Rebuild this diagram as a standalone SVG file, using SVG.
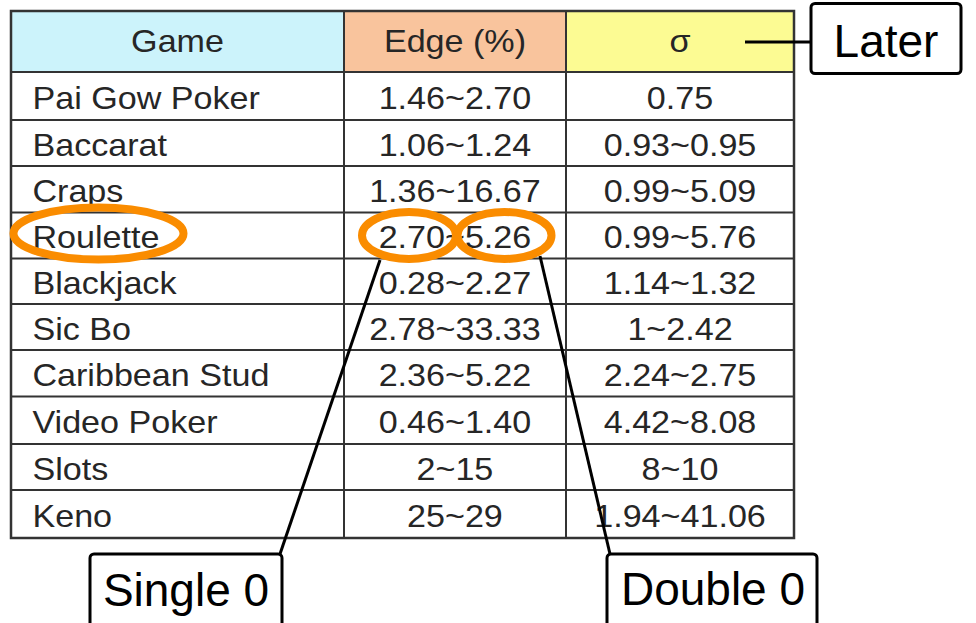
<svg xmlns="http://www.w3.org/2000/svg" width="976" height="623" viewBox="0 0 976 623">
<style>
.t{font-family:"Liberation Sans",Arial,sans-serif;font-size:31px;fill:#262626}
.c{text-anchor:middle}
.grid{stroke:#333;stroke-width:2;fill:none}
.ring{fill:none;stroke:#FA8C00;stroke-width:8}
.box{fill:#fff;stroke:#000;stroke-width:3}
.lbl{font-family:"Liberation Sans",Arial,sans-serif;font-size:46px;fill:#000;text-anchor:middle}
.conn{stroke:#000;stroke-width:3;fill:none}
</style>
<rect width="976" height="623" fill="#fff"/>
<g id="table">
<rect x="11" y="11" width="333" height="61" fill="#CCF3FB"/>
<rect x="344" y="11" width="222" height="61" fill="#F9C49D"/>
<rect x="566" y="11" width="228" height="61" fill="#FCFB93"/>
<rect x="11" y="72" width="783" height="466" fill="#fff"/>
<g class="grid">
<rect x="11" y="11" width="783" height="527" stroke-width="2.5"/>
<path d="M344 11V538M566 11V538M11 72H794M11 120H794M11 166H794M11 212.5H794M11 258.5H794M11 304H794M11 350H794M11 396.5H794M11 444H794M11 490H794"/>
</g>
<g transform="scale(1.1 1)">
<text class="t c" x="161.4" y="52">Game</text>
<text class="t c" x="413.6" y="52">Edge (%)</text>
<text class="t c" x="618.2" y="52">σ</text>
<text class="t" x="29.5" y="109">Pai Gow Poker</text>
<text class="t c" x="413.6" y="109">1.46~2.70</text>
<text class="t c" x="618.2" y="109">0.75</text>
<text class="t" x="29.5" y="156">Baccarat</text>
<text class="t c" x="413.6" y="156">1.06~1.24</text>
<text class="t c" x="618.2" y="156">0.93~0.95</text>
<text class="t" x="29.5" y="202">Craps</text>
<text class="t c" x="413.6" y="202">1.36~16.67</text>
<text class="t c" x="618.2" y="202">0.99~5.09</text>
<text class="t" x="29.5" y="248.5">Roulette</text>
<text class="t c" x="413.6" y="248.5">2.70~5.26</text>
<text class="t c" x="618.2" y="248.5">0.99~5.76</text>
<text class="t" x="29.5" y="294">Blackjack</text>
<text class="t c" x="413.6" y="294">0.28~2.27</text>
<text class="t c" x="618.2" y="294">1.14~1.32</text>
<text class="t" x="29.5" y="340">Sic Bo</text>
<text class="t c" x="413.6" y="340">2.78~33.33</text>
<text class="t c" x="618.2" y="340">1~2.42</text>
<text class="t" x="29.5" y="386">Caribbean Stud</text>
<text class="t c" x="413.6" y="386">2.36~5.22</text>
<text class="t c" x="618.2" y="386">2.24~2.75</text>
<text class="t" x="29.5" y="433">Video Poker</text>
<text class="t c" x="413.6" y="433">0.46~1.40</text>
<text class="t c" x="618.2" y="433">4.42~8.08</text>
<text class="t" x="29.5" y="480">Slots</text>
<text class="t c" x="413.6" y="480">2~15</text>
<text class="t c" x="618.2" y="480">8~10</text>
<text class="t" x="29.5" y="527">Keno</text>
<text class="t c" x="413.6" y="527">25~29</text>
<text class="t c" x="618.2" y="527">1.94~41.06</text>
</g>
</g>
<g id="highlights">
<ellipse class="ring" cx="98.5" cy="233.5" rx="85" ry="26"/>
<ellipse class="ring" cx="409" cy="235.5" rx="47" ry="23.5"/>
<ellipse class="ring" cx="504.5" cy="235.5" rx="47" ry="23.5"/>
</g>
<g id="connectors">
<path class="conn" d="M380 260L280 554"/>
<path class="conn" d="M540 256L610 554"/>
<path class="conn" d="M745 42H811"/>
</g>
<g id="later">
<rect class="box" x="811" y="3.5" width="150" height="70" rx="4"/>
<text class="lbl" x="886" y="57">Later</text>
</g>
<g id="single0">
<rect class="box" x="90" y="554" width="192" height="90" rx="4"/>
<text class="lbl" x="186" y="606">Single 0</text>
</g>
<g id="double0">
<rect class="box" x="607" y="554" width="210" height="90" rx="4"/>
<text class="lbl" x="713" y="605">Double 0</text>
</g>
</svg>
